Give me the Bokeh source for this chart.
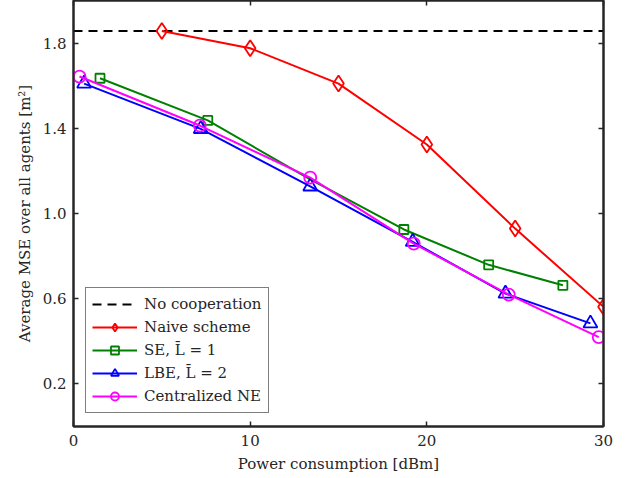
from bokeh.plotting import figure
from bokeh.models import Range1d, LinearAxis, Legend, LegendItem, FixedTicker
from bokeh.embed import file_html
from bokeh.resources import INLINE

# data
nocoop_x = [0, 30]
nocoop_y = [1.857, 1.857]
naive_x = [5, 10, 15, 20, 25, 30]
naive_y = [1.857, 1.776, 1.61, 1.324, 0.929, 0.562]
se_x = [1.5, 7.6, 13.4, 18.7, 23.5, 27.7]
se_y = [1.635, 1.437, 1.16, 0.925, 0.759, 0.663]
lbe_x = [0.6, 7.2, 13.4, 19.2, 24.45, 29.26]
lbe_y = [1.61, 1.397, 1.127, 0.867, 0.624, 0.484]
cne_x = [0.34, 7.15, 13.4, 19.26, 24.64, 29.73]
cne_y = [1.643, 1.413, 1.168, 0.859, 0.619, 0.42]
x_ticks = [0, 10, 20, 30]
y_ticks = [0.2, 0.6, 1.0, 1.4, 1.8]

FONT = "DejaVu Serif"
AX = "#262626"

p = figure(width=627, height=478, output_backend="svg", toolbar_location=None,
           x_range=Range1d(0, 30), y_range=Range1d(0, 2.0),
           min_border_left=73, min_border_right=24, min_border_top=0, min_border_bottom=52)
p.xgrid.visible = False
p.ygrid.visible = False
p.outline_line_color = AX
p.outline_line_width = 2

for ax in (p.xaxis[0], p.yaxis[0]):
    ax.major_tick_in = 5
    ax.major_tick_out = 0
    ax.minor_tick_line_color = None
    ax.axis_line_color = AX
    ax.axis_line_width = 2
    ax.major_tick_line_color = AX
    ax.major_tick_line_width = 1.5
    ax.major_label_text_font = FONT
    ax.major_label_text_font_size = "15px"
    ax.major_label_text_color = AX
    ax.axis_label_text_font = FONT
    ax.axis_label_text_font_size = "15px"
    ax.axis_label_text_font_style = "normal"
    ax.axis_label_text_color = AX
p.xaxis[0].ticker = FixedTicker(ticks=x_ticks)
p.yaxis[0].ticker = FixedTicker(ticks=y_ticks)
p.yaxis[0].major_label_overrides = {0.2: "0.2", 0.6: "0.6", 1.0: "1.0", 1.4: "1.4", 1.8: "1.8"}
p.xaxis[0].axis_label = "Power consumption [dBm]"
p.yaxis[0].axis_label = "Average MSE over all agents [m²]"
p.xaxis[0].major_label_standoff = 8
p.yaxis[0].major_label_standoff = 7
p.xaxis[0].axis_label_standoff = 6
p.yaxis[0].axis_label_standoff = 6

top = LinearAxis(ticker=FixedTicker(ticks=x_ticks),
                 major_label_overrides={t: "" for t in x_ticks},
                 major_label_standoff=0,
                 major_tick_in=5, major_tick_out=0, minor_tick_line_color=None,
                 axis_line_color=AX, axis_line_width=2, major_tick_line_color=AX,
                 major_tick_line_width=1.5)
right = LinearAxis(ticker=FixedTicker(ticks=y_ticks),
                   major_label_overrides={t: "" for t in y_ticks},
                   major_label_standoff=0,
                   major_tick_in=5, major_tick_out=0, minor_tick_line_color=None,
                   axis_line_color=AX, axis_line_width=2, major_tick_line_color=AX,
                   major_tick_line_width=1.5)
p.add_layout(top, "above")
p.add_layout(right, "right")

lw = 2
r0 = p.line(nocoop_x, nocoop_y, line_color="black", line_width=2, line_dash="9 6")
r1 = p.line(naive_x, naive_y, line_color="#ff0000", line_width=lw)
m1 = p.scatter(naive_x, naive_y, marker="diamond", size=16, line_color="#ff0000",
               line_width=1.8, fill_color=None)
r2 = p.line(se_x, se_y, line_color="#008000", line_width=lw)
m2 = p.scatter(se_x[:2] + se_x[3:], se_y[:2] + se_y[3:], marker="square", size=9,
               line_color="#008000", line_width=1.8, fill_color=None)
r3 = p.line(lbe_x, lbe_y, line_color="#0000ff", line_width=lw)
m3 = p.scatter(lbe_x, lbe_y, marker="triangle", size=14, line_color="#0000ff",
               line_width=1.8, fill_color=None)
r4 = p.line(cne_x, cne_y, line_color="#ff00ff", line_width=lw)
m4 = p.scatter(cne_x, cne_y, marker="circle", size=12, line_color="#ff00ff",
               line_width=1.8, fill_color=None)

legend = Legend(items=[
    LegendItem(label="No cooperation", renderers=[r0]),
    LegendItem(label="Naive scheme", renderers=[r1, m1]),
    LegendItem(label="SE, L̄ = 1", renderers=[r2, m2]),
    LegendItem(label="LBE, L̄ = 2", renderers=[r3, m3]),
    LegendItem(label="Centralized NE", renderers=[r4, m4]),
], location=(12, 13))
legend.label_text_font = FONT
legend.label_text_font_size = "15px"
legend.label_text_color = AX
legend.border_line_color = "black"
legend.border_line_width = 1.5
legend.background_fill_alpha = 1
legend.padding = 6
legend.spacing = 3
legend.glyph_width = 45
legend.glyph_height = 20
legend.label_height = 20
legend.label_standoff = 7
legend.margin = 0
p.add_layout(legend, "center")

open("out.html", "w").write(file_html(p, INLINE))
